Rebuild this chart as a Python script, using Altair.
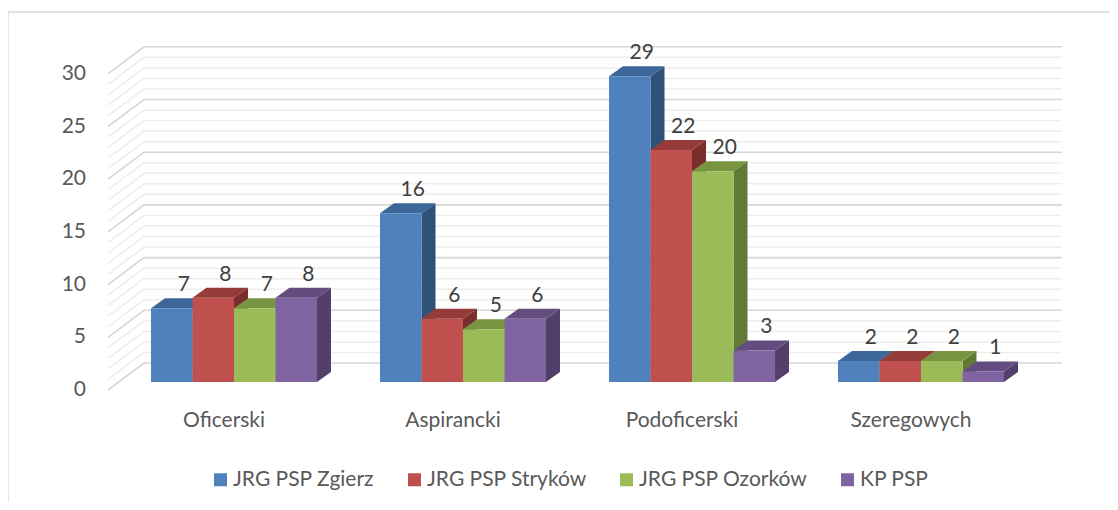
import altair as alt
import pandas as pd

# ---------------- data ----------------
categories = ["Oficerski", "Aspirancki", "Podoficerski", "Szeregowych"]
series = ["JRG PSP Zgierz", "JRG PSP Stryków", "JRG PSP Ozorków", "KP PSP"]
zgierz = [7, 16, 29, 2]
strykow = [8, 6, 22, 2]
ozorkow = [7, 5, 20, 2]
kp = [8, 6, 3, 1]
values = [zgierz, strykow, ozorkow, kp]
y_ticks = [0, 5, 10, 15, 20, 25, 30]
y_max = 30

# ---------------- style ----------------
front_colors = ["#4F81BD", "#C0504D", "#9BBB59", "#8064A2"]
top_colors = ["#3D6799", "#953B39", "#789443", "#634D80"]
side_colors = ["#2F5179", "#7A2E2C", "#627A36", "#523F6A"]
FONT = "Lato"
W, H = 1102, 494
PX_X = 229.0      # pixels per category slot
PX_Y = 10.54      # pixels per value unit
X0_VIEW = 143.0   # view x of first group's left edge
Y0_VIEW = 374.0   # view y of bar baseline
BAR_W = 41.5 / PX_X
DX = 14 / PX_X
DY = 10 / PX_Y
WALL_FRONT_U = (108 - 151) / PX_X
WALL_FRONT_DY = (382 - 390) / PX_Y
WALL_BACK_U = (144 - 151) / PX_X
WALL_BACK_DY = (382 - 363) / PX_Y
WALL_RIGHT_U = (1062 - 151) / PX_X

xs = alt.Scale(domain=[-X0_VIEW / PX_X, (W - X0_VIEW) / PX_X], nice=False, zero=False)
ys = alt.Scale(domain=[(Y0_VIEW - H) / PX_Y, Y0_VIEW / PX_Y], nice=False, zero=False)

# ---------------- tables ----------------
bars, tops, sides, vlabels = [], [], [], []
for i, cat in enumerate(categories):
    for j, s in enumerate(series):
        v = values[j][i]
        x0 = i + j * BAR_W
        x1 = x0 + BAR_W
        bid = f"{i}-{j}"
        bars.append(dict(series=s, x0=x0, x1=x1, y0=0, y1=v))
        tops.append(dict(bid=bid, y=v, xa=x0, xb=x1, fc=top_colors[j]))
        tops.append(dict(bid=bid, y=v + DY, xa=x0 + DX, xb=x1 + DX, fc=top_colors[j]))
        sides.append(dict(bid=bid, x=x1, ya=0, yb=v, fc=side_colors[j]))
        sides.append(dict(bid=bid, x=x1 + DX, ya=DY, yb=v + DY, fc=side_colors[j]))
        vlabels.append(dict(x=(x0 + x1) / 2 + 12 / PX_X, y=v + DY + 7 / PX_Y, t=str(v)))

grid = []
for v in range(0, y_max + 1):
    kind = "major" if v in y_ticks else "minor"
    grid.append(dict(v=v, k=kind, o=0, x=WALL_FRONT_U, y=v + WALL_FRONT_DY))
    grid.append(dict(v=v, k=kind, o=1, x=WALL_BACK_U, y=v + WALL_BACK_DY))
    grid.append(dict(v=v, k=kind, o=2, x=WALL_RIGHT_U, y=v + WALL_BACK_DY))
grid = pd.DataFrame(grid)

ylab = pd.DataFrame(dict(x=[(86 - 151) / PX_X] * len(y_ticks),
                         y=[t + WALL_FRONT_DY for t in y_ticks],
                         t=[str(t) for t in y_ticks]))
clab = pd.DataFrame(dict(x=[i + 73 / PX_X for i in range(len(categories))],
                         y=[(382 - 421) / PX_Y] * len(categories),
                         t=categories))

X = lambda f: alt.X(f, type="quantitative", scale=xs, axis=None)
Y = lambda f: alt.Y(f, type="quantitative", scale=ys, axis=None)

minor = alt.Chart(grid[grid.k == "minor"]).mark_line(color="#EDEDED", strokeWidth=1.5).encode(
    x=X("x"), y=Y("y"), detail="v:N", order="o:Q")
major = alt.Chart(grid[grid.k == "major"]).mark_line(color="#D6D6D6", strokeWidth=1.6).encode(
    x=X("x"), y=Y("y"), detail="v:N", order="o:Q")

side_layer = alt.Chart(pd.DataFrame(sides)).mark_area(orient="vertical").encode(
    x=X("x"), y=Y("ya"), y2="yb:Q", detail="bid:N",
    fill=alt.Fill("fc:N", scale=None))
top_layer = alt.Chart(pd.DataFrame(tops)).mark_area(orient="horizontal").encode(
    y=Y("y"), x=X("xa"), x2="xb:Q", detail="bid:N",
    fill=alt.Fill("fc:N", scale=None))
front_layer = alt.Chart(pd.DataFrame(bars)).mark_rect().encode(
    x=X("x0"), x2="x1:Q", y=Y("y0"), y2="y1:Q",
    color=alt.Color("series:N", scale=alt.Scale(domain=series, range=front_colors),
                    legend=alt.Legend(orient="none", legendX=202, legendY=461,
                                      direction="horizontal", title=None,
                                      symbolType="square", symbolSize=169,
                                      symbolStrokeWidth=0, labelFont=FONT,
                                      labelFontSize=21, labelColor="#595959",
                                      labelLimit=0,
                                      columnPadding=29, labelOffset=2, padding=0)))

val_text = alt.Chart(pd.DataFrame(vlabels)).mark_text(
    font=FONT, fontSize=21, color="#404040", baseline="alphabetic", align="center").encode(
    x=X("x"), y=Y("y"), text="t:N")
ylab_text = alt.Chart(ylab).mark_text(
    font=FONT, fontSize=21, color="#595959", baseline="middle", align="right").encode(
    x=X("x"), y=Y("y"), text="t:N")
clab_text = alt.Chart(clab).mark_text(
    font=FONT, fontSize=21, color="#595959", baseline="middle", align="center").encode(
    x=X("x"), y=Y("y"), text="t:N")

one = pd.DataFrame({"a": [0]})
border_left = alt.Chart(one).mark_rule(color="#D9D9D9", strokeWidth=1.3).encode(
    x=alt.value(0), y=alt.value(4), y2=alt.value(H))
border_top = alt.Chart(one).mark_rule(color="#D9D9D9", strokeWidth=1.3).encode(
    x=alt.value(0), x2=alt.value(W), y=alt.value(4))

chart = alt.layer(
    border_left, border_top, minor, major, side_layer, top_layer, front_layer,
    val_text, ylab_text, clab_text
).properties(
    width=W, height=H, autosize=alt.AutoSizeParams(type="none"), padding=0
).configure_view(stroke=None)

chart.save("out.html", embed_options={"renderer": "svg", "actions": False})
